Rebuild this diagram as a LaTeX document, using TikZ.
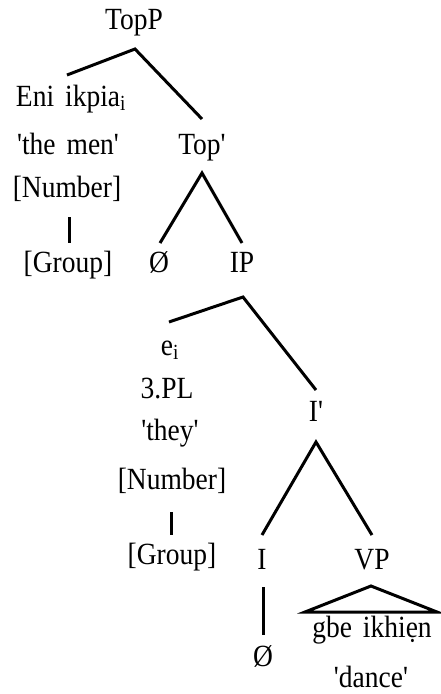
\documentclass[tikz,border=0pt]{standalone}
\usepackage{fontspec}
\newfontfamily\treefont{Liberation Serif}[WordSpace=1.6]
\usetikzlibrary{positioning}

\begin{document}
\begin{tikzpicture}[x=1pt,y=-1pt,
    lbl/.style={font=\treefont\fontsize{27.5}{30}\selectfont, anchor=base, inner sep=0pt, yscale=1.12},
    branch/.style={line width=3pt}]
    \useasboundingbox (0,0) rectangle (441,694);

    % Top of the tree
    \node[lbl] (topP) at (134,29) {TopP};
    \coordinate (topP-foot) at (135,49);

    % Topic phrase on the left
    \node[lbl] (eni) at (71,106) {Eni ikpia\textsubscript{i}};
    \node[lbl] (theMen) at (68,154) {'the men'};
    \node[lbl] (numberA) at (67,197) {[Number]};
    \node[lbl] (groupA) at (68,272) {[Group]};
    \coordinate (eni-top) at (67,75);
    \coordinate (numberA-foot) at (69,217);
    \coordinate (groupA-top) at (69,243);

    % Top' and its daughters
    \node[lbl] (topBar) at (202,154) {Top'};
    \coordinate (topBar-top) at (202,119);
    \coordinate (topBar-foot) at (202,173);
    \node[lbl] (nullTop) at (159,272) {Ø};
    \node[lbl] (ip) at (242,272) {IP};
    \coordinate (nullTop-top) at (160,243);
    \coordinate (ip-top) at (242,243);
    \coordinate (ip-foot) at (243,297);

    % Empty subject e_i
    \node[lbl] (subj) at (170,355) {e\textsubscript{i}};
    \node[lbl] (thirdPl) at (167,398) {3.PL};
    \node[lbl] (they) at (170,440) {'they'};
    \node[lbl] (numberB) at (172,489) {[Number]};
    \node[lbl] (groupB) at (172,564) {[Group]};
    \coordinate (subj-top) at (169,322);
    \coordinate (numberB-foot) at (171,512);
    \coordinate (groupB-top) at (171,535);

    % I' and below
    \node[lbl] (iBar) at (316,421) {I'};
    \coordinate (iBar-top) at (316,390);
    \coordinate (iBar-foot) at (316,442);
    \node[lbl] (infl) at (262,569) {I};
    \node[lbl] (vp) at (372,569) {VP};
    \coordinate (infl-top) at (262,535);
    \coordinate (vp-top) at (372,535);
    \coordinate (infl-foot) at (263,587);
    \node[lbl] (nullI) at (263,666) {Ø};
    \coordinate (nullI-top) at (263,635);

    % VP triangle
    \coordinate (vp-apex) at (371,586);
    \coordinate (vp-left) at (305,612);
    \coordinate (vp-right) at (437,612);
    \node[lbl] (gbe) at (372,637) {gbe ikhiẹn};
    \node[lbl] (dance) at (371,687) {'dance'};

    % Branches
    \draw[branch] (eni-top) -- (topP-foot) -- (topBar-top);
    \draw[branch] (numberA-foot) -- (groupA-top);
    \draw[branch] (nullTop-top) -- (topBar-foot) -- (ip-top);
    \draw[branch] (subj-top) -- (ip-foot) -- (iBar-top);
    \draw[branch] (numberB-foot) -- (groupB-top);
    \draw[branch] (infl-top) -- (iBar-foot) -- (vp-top);
    \draw[branch] (infl-foot) -- (nullI-top);
    \draw[branch] (vp-left) -- (vp-apex) -- (vp-right) -- cycle;
\end{tikzpicture}
\end{document}
